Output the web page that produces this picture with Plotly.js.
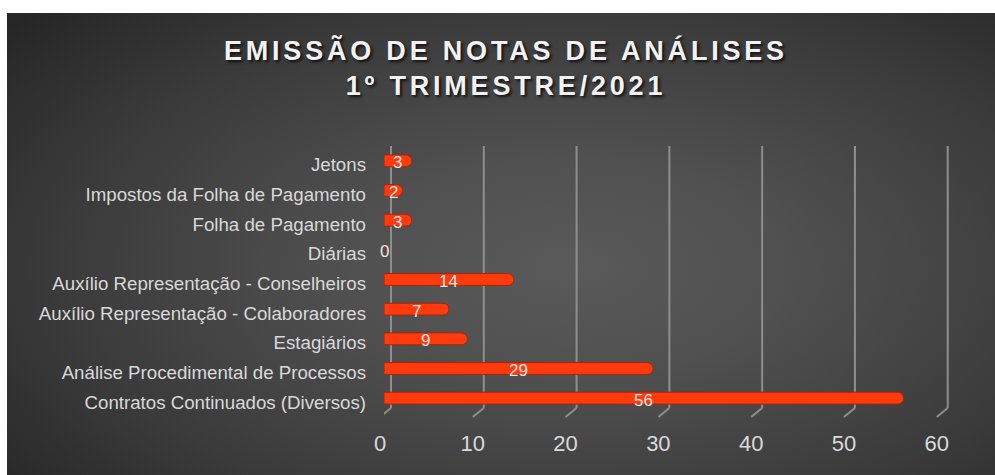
<!DOCTYPE html>
<html><head><meta charset="utf-8">
<script src="https://cdn.plot.ly/plotly-3.0.1.min.js"></script>
<style>
html,body{margin:0;padding:0;background:#fff;}
#chart{position:absolute;left:7px;top:13px;width:988px;height:462px;
background:radial-gradient(ellipse 75% 80% at 57% 55%, #5a5a5a 0%, #505050 30%, #3a3a3a 70%, #262626 100%);}
#chart .gtitle{letter-spacing:3.8px;}
</style></head><body>
<div id="chart"></div>
<script>
const categories = [
  "Contratos Continuados (Diversos)",
  "Análise Procedimental de Processos",
  "Estagiários",
  "Auxílio Representação - Colaboradores",
  "Auxílio Representação - Conselheiros",
  "Diárias",
  "Folha de Pagamento",
  "Impostos da Folha de Pagamento",
  "Jetons"
];
const values = [56, 29, 9, 7, 14, 0, 3, 2, 3];
const tickValues = [0, 10, 20, 30, 40, 50, 60];
const titleText = "EMISSÃO DE NOTAS DE ANÁLISES<br>1º TRIMESTRE/2021";

const bars = {
  type: "bar", orientation: "h", y: categories, x: values,
  marker: {color: "#ff3a0c", line: {color: "#a82408", width: 1}, cornerradius: 6},
  textposition: "none", hoverinfo: "x+y", showlegend: false
};

const annotations = categories.map((c, i) => ({
  xref: "x", yref: "y", x: values[i] / 2, y: c, text: String(values[i]),
  showarrow: false, xanchor: "center", yanchor: "middle", yshift: -2,
  font: {family: "Liberation Sans, Arial, sans-serif", size: 17, color: "#e6e6e6"}
}));

const shapes = [];
tickValues.forEach(v => {
  shapes.push({type: "line", layer: "below", xref: "x", xsizemode: "pixel", xanchor: v,
    x0: 7, x1: 7, yref: "paper", y0: 0.019, y1: 1.0,
    line: {color: "#8e8e8e", width: 2}});
  shapes.push({type: "line", layer: "below", xref: "x", xsizemode: "pixel", xanchor: v,
    x0: 7, x1: -4, yref: "paper", y0: 0.019, y1: -0.015,
    line: {color: "#8e8e8e", width: 2}});
});

const layout = {
  width: 988, height: 462,
  paper_bgcolor: "rgba(0,0,0,0)", plot_bgcolor: "rgba(0,0,0,0)",
  margin: {l: 377, r: 45, t: 133, b: 62},
  title: {
    text: titleText, x: 0.505, xanchor: "center", y: 0.899, yanchor: "top",
    font: {family: "Liberation Sans, Arial, sans-serif", size: 27, color: "#f2f2f2",
      weight: 700, shadow: "2px 2px 3px rgba(0,0,0,0.75)"}
  },
  xaxis: {
    range: [0, 61], tickvals: tickValues, ticktext: tickValues.map(String),
    showgrid: false, zeroline: false, showline: false, ticks: "",
    ticklabelshift: -4, ticklabelstandoff: 15,
    tickfont: {family: "Liberation Sans, Arial, sans-serif", size: 22, color: "#d9d9d9"},
    fixedrange: true
  },
  yaxis: {
    type: "category", categoryorder: "array", categoryarray: categories,
    showgrid: false, zeroline: false, showline: false, ticks: "",
    ticklabelstandoff: 17, ticklabelshift: 4,
    tickfont: {family: "Liberation Sans, Arial, sans-serif", size: 18.7, color: "#d9d9d9"},
    fixedrange: true
  },
  bargap: 0.6,
  shapes: shapes,
  annotations: annotations,
  font: {family: "Liberation Sans, Arial, sans-serif"}
};

Plotly.newPlot("chart", [bars], layout, {displayModeBar: false, staticPlot: true});
</script>
</body></html>
